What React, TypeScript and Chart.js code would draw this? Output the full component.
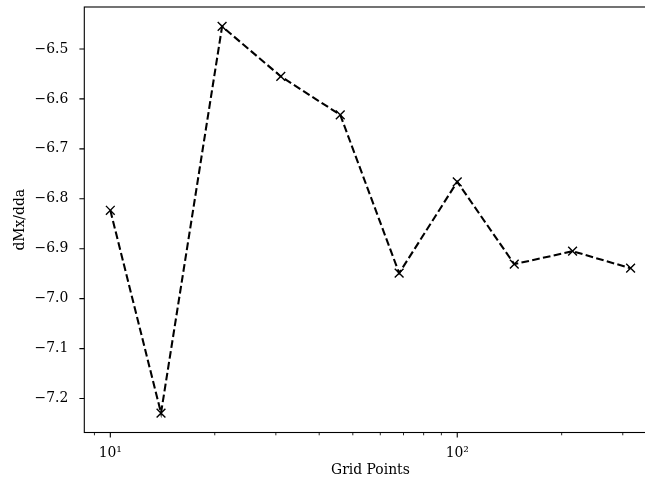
import React, { useEffect, useRef } from "react";
import { Chart, registerables } from "chart.js";

Chart.register(...registerables);

// Data
const gridPoints = [10, 14, 21, 31, 46, 68, 100, 146, 215, 316];
const dMxdda = [-6.823, -7.229, -6.455, -6.555, -6.632, -6.949, -6.766, -6.931, -6.905, -6.939];

const yTicks = [-6.5, -6.6, -6.7, -6.8, -6.9, -7.0, -7.1, -7.2];
const xMajorTicks = [10, 100];
const xMajorLabels = ["10\u00B9", "10\u00B2"];
const xMinorTicks = [9, 20, 30, 40, 50, 60, 70, 80, 90, 200, 300];

const xLabel = "Grid Points";
const yLabel = "dMx/dda";

const FONT = "'DejaVu Serif', serif";
const FS = 13.9;

const framePlugin = {
  id: "frameTicks",
  afterDraw(chart: any) {
    const { ctx, chartArea } = chart;
    const xs = chart.scales.x;
    const ys = chart.scales.y;
    ctx.save();
    ctx.strokeStyle = "#000";
    ctx.lineWidth = 1.1;
    ctx.beginPath();
    yTicks.forEach((v) => {
      const y = ys.getPixelForValue(v);
      ctx.moveTo(chartArea.left, y);
      ctx.lineTo(chartArea.left - 4.9, y);
    });
    xMajorTicks.forEach((v) => {
      const x = xs.getPixelForValue(v);
      ctx.moveTo(x, chartArea.bottom);
      ctx.lineTo(x, chartArea.bottom + 4.9);
    });
    ctx.stroke();
    ctx.lineWidth = 0.85;
    ctx.beginPath();
    xMinorTicks.forEach((v) => {
      const x = xs.getPixelForValue(v);
      ctx.moveTo(x, chartArea.bottom);
      ctx.lineTo(x, chartArea.bottom + 2.8);
    });
    ctx.stroke();
    ctx.lineWidth = 1.1;
    ctx.strokeRect(chartArea.left, chartArea.top, chartArea.right - chartArea.left, chartArea.bottom - chartArea.top);
    ctx.restore();
  },
};

export default function App() {
  const ref = useRef<HTMLCanvasElement | null>(null);

  useEffect(() => {
    if (!ref.current) return;
    const chart = new Chart(ref.current, {
      type: "line",
      data: {
        datasets: [
          {
            data: gridPoints.map((x, i) => ({ x, y: dMxdda[i] })),
            borderColor: "#000",
            borderWidth: 2.08,
            borderDash: [7.7, 3.3],
            fill: false,
            tension: 0,
            pointStyle: "crossRot",
            pointRadius: 6.2,
            pointBorderWidth: 1.4,
            pointBorderColor: "#000",
            pointBackgroundColor: "#000",
          },
        ],
      },
      options: {
        animation: false,
        responsive: false,
        devicePixelRatio: 1,
        layout: { autoPadding: false, padding: { top: 7, right: 3.4, left: 0, bottom: 0 } },
        plugins: { legend: { display: false }, tooltip: { enabled: false } },
        scales: {
          x: {
            type: "logarithmic",
            min: 8.414,
            max: 375.5,
            grid: { display: false },
            border: { display: false },
            afterBuildTicks: (axis: any) => {
              axis.ticks = xMajorTicks.map((v) => ({ value: v }));
            },
            afterFit: (axis: any) => {
              axis.height = 52.5;
              axis.paddingLeft = 0;
              axis.paddingRight = 0;
              axis.paddingTop = 0;
              axis.paddingBottom = 0;
            },
            ticks: {
              padding: 4.5,
              color: "#000",
              maxRotation: 0,
              autoSkip: false,
              font: { family: FONT, size: FS },
              callback: (v: any) => {
                const i = xMajorTicks.indexOf(Number(v));
                return i >= 0 ? xMajorLabels[i] : "";
              },
            },
            title: {
              display: true,
              text: xLabel,
              color: "#000",
              font: { family: FONT, size: FS },
              padding: { top: 0, bottom: 6 },
            },
          },
          y: {
            type: "linear",
            min: -7.268,
            max: -6.416,
            grid: { display: false },
            border: { display: false },
            afterBuildTicks: (axis: any) => {
              axis.ticks = yTicks.map((v) => ({ value: v }));
            },
            afterFit: (axis: any) => {
              axis.width = 84.3;
              axis.paddingLeft = 0;
              axis.paddingRight = 0;
              axis.paddingTop = 0;
              axis.paddingBottom = 0;
            },
            ticks: {
              padding: 8,
              color: "#000",
              font: { family: FONT, size: FS },
              callback: (v: any) => {
                const n = Number(v);
                const s = Math.abs(n).toFixed(1);
                return n < 0 ? "\u2212" + s : s;
              },
            },
            title: {
              display: true,
              text: yLabel,
              color: "#000",
              font: { family: FONT, size: FS },
              padding: { top: 12, bottom: 0 },
            },
          },
        },
      },
      plugins: [framePlugin],
    });
    return () => chart.destroy();
  }, []);

  return (
    <div
      style={{
        position: "absolute",
        left: 0,
        top: 0,
        width: 645,
        height: 485,
        overflow: "hidden",
        background: "#fff",
      }}
    >
      <canvas ref={ref} width={660} height={485} style={{ width: 660, height: 485, display: "block" }} />
    </div>
  );
}
